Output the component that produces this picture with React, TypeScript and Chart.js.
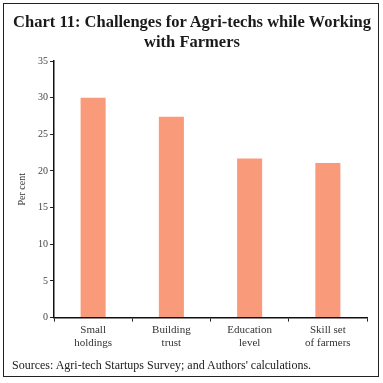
import React, { useEffect, useRef } from "react";
import { Chart, registerables } from "chart.js";

Chart.register(...registerables);

const categories: string[][] = [
  ["Small", "holdings"],
  ["Building", "trust"],
  ["Education", "level"],
  ["Skill set", "of farmers"],
];
const values: number[] = [30, 27.4, 21.7, 21.1];
const yTicks: number[] = [0, 5, 10, 15, 20, 25, 30, 35];

const FONT = "'Liberation Serif', 'DejaVu Serif', serif";

export default function App() {
  const ref = useRef<HTMLCanvasElement | null>(null);

  useEffect(() => {
    document.body.style.margin = "0";
    const ctx = ref.current;
    if (!ctx) return;
    const chart = new Chart(ctx, {
      type: "bar",
      data: {
        labels: categories,
        datasets: [
          {
            data: values,
            backgroundColor: "#F99A7B",
            borderWidth: 0,
            barPercentage: 0.32,
            categoryPercentage: 1,
          },
        ],
      },
      options: {
        animation: false,
        responsive: false,
        maintainAspectRatio: false,
        layout: { padding: { top: 61, right: 16, bottom: 31, left: 12 } },
        plugins: {
          legend: { display: false },
          tooltip: { enabled: false },
        },
        scales: {
          x: {
            offset: true,
            grid: {
              offset: true,
              drawOnChartArea: false,
              drawTicks: true,
              tickLength: 4,
              color: "#222",
            },
            border: { color: "#111", width: 1.5 },
            ticks: {
              color: "#333",
              font: { family: FONT, size: 11 },
              padding: 2,
              maxRotation: 0,
            },
          },
          y: {
            min: 0,
            max: 35,
            afterBuildTicks: (axis: any) => {
              axis.ticks = yTicks.map((v) => ({ value: v }));
            },
            afterFit: (axis: any) => {
              axis.width = 42;
            },
            grid: {
              drawOnChartArea: false,
              drawTicks: true,
              tickLength: 4,
              color: "#222",
            },
            border: { color: "#111", width: 1.5 },
            ticks: {
              color: "#444",
              font: { family: FONT, size: 10 },
              padding: 2,
            },
            title: {
              display: true,
              text: "Per cent",
              color: "#333",
              font: { family: FONT, size: 10 },
              padding: 4,
            },
          },
        },
      },
    });
    return () => chart.destroy();
  }, []);

  return (
    <div
      style={{
        position: "absolute",
        left: 0,
        top: 0,
        width: 383,
        height: 383,
        background: "#fff",
        fontFamily: FONT,
      }}
    >
      <canvas
        ref={ref}
        width={383}
        height={383}
        style={{ position: "absolute", left: 0, top: 0, width: 383, height: 383 }}
      />
      <div
        style={{
          position: "absolute",
          left: 3,
          top: 3,
          width: 374,
          height: 372,
          border: "1.5px solid #222",
          pointerEvents: "none",
        }}
      />
      <div
        style={{
          position: "absolute",
          left: 4,
          top: 12,
          width: 376,
          textAlign: "center",
          fontWeight: "bold",
          fontSize: 16.5,
          lineHeight: "20px",
          color: "#1a1a1a",
        }}
      >
        Chart 11: Challenges for Agri-techs while Working
        <br />
        with Farmers
      </div>
      <div
        style={{
          position: "absolute",
          left: 12,
          top: 358,
          fontSize: 12,
          color: "#1a1a1a",
          whiteSpace: "nowrap",
        }}
      >
        Sources: Agri-tech Startups Survey; and Authors' calculations.
      </div>
    </div>
  );
}
